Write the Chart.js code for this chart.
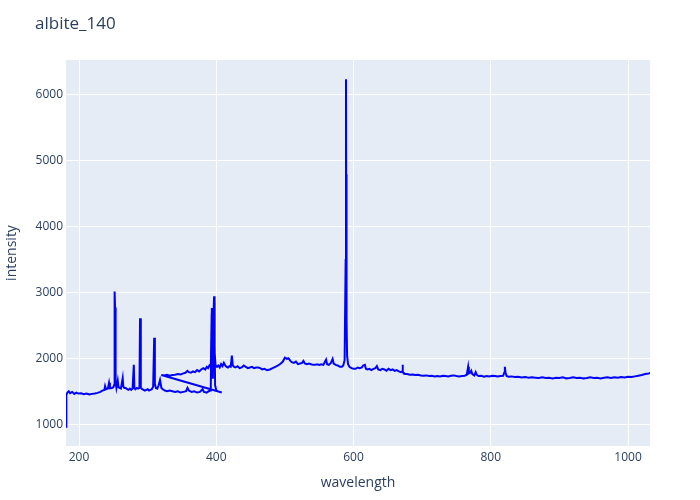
<!DOCTYPE html>
<html>
<head>
<meta charset="utf-8">
<script src="https://cdn.jsdelivr.net/npm/chart.js@4/dist/chart.umd.min.js"></script>
<style>
html,body{margin:0;padding:0;background:#fff;}
#wrap{width:700px;height:500px;position:relative;}
</style>
</head>
<body>
<div id="wrap"><canvas id="c" width="700" height="500"></canvas></div>
<script>
const chartTitle = "albite_140";
const xTitle = "wavelength";
const yTitle = "intensity";

// Segment 1 (first spectrometer range)
const wl1 = [181,181.5,183,185,187,190,193,196,199,203,207,211,215,219,223,227,231,234,237,238,239.5,242,243.7,245,248,250,251,251.6,252.1,252.5,253,253.6,254.5,256.4,257.5,259,261,263.6,264.5,266,268,270,272,274,276,278,279.8,280.6,282,284,286,288,288.9,290,292,294,296,298,300,302,304,306,308,309.5,310.5,312,314,316,318,320,322,325,328,332,336,340,344,348,352,356,358,360,364,368,372,376,380,382,386,389,391,392,393,393.5,394.2,395,396,396.8,397.5,398.3,400,402,405,408];
const int1 = [970,1450,1490,1510,1480,1500,1470,1490,1475,1480,1465,1475,1460,1470,1475,1485,1500,1520,1530,1590,1540,1550,1640,1555,1560,1570,1600,1700,3020,2780,2200,1650,1560,1670,1570,1560,1550,1710,1580,1560,1560,1540,1530,1550,1530,1550,1910,1560,1540,1560,1550,1560,2615,1560,1540,1530,1520,1530,1540,1520,1530,1540,1580,2320,1620,1560,1550,1600,1680,1560,1540,1520,1510,1520,1510,1500,1510,1490,1500,1510,1560,1520,1500,1510,1490,1500,1540,1500,1490,1510,1520,1600,2400,2770,2100,1700,2700,2950,2300,1600,1520,1510,1500,1490];

// Segment 2 (second spectrometer range)
const wl2 = [320,324,328,332,336,340,344,348,352,355,358,360,363,366,369,372,375,378,381,384,386,388,390,392,393.3,394,395,396.8,397.6,399,401,403,405,407,409,411,413,415,417,419,421,422.7,424,426,428,431,434,437,440,443,446,449,452,455,458,461,464,467,470,474,478,482,486,490,494,497,500,503,505,508,510,513,516,519,522,525,527,529,532,535,538,541,544,547,550,553,556,558,560,561.5,564,567,569.5,571,574,577,580,583,585,587,588.5,589.0,589.3,589.6,590.0,590.6,592,594,597,600,603,606,609,612,614,616.5,618,620,623,626,629,632,634,636,639,642,645,648,651,654,657,660,663,666,669,671,671.4,672,675,678,682,686,690,694,698,702,706,710,714,718,722,726,730,734,738,742,746,750,754,758,762,765,767,768,770,771.5,773,776,778,779.5,782,786,790,794,798,802,806,810,814,818,819.5,820.5,821.5,823,826,830,835,840,845,850,855,860,865,870,875,880,885,890,895,900,905,910,915,920,925,930,935,940,945,950,955,960,965,970,975,980,985,990,995,1000,1005,1010,1015,1020,1025,1030,1032];
const int2 = [1755,1750,1760,1745,1755,1760,1770,1765,1780,1790,1820,1800,1790,1810,1800,1830,1810,1840,1860,1840,1880,1860,1900,1880,2700,2000,1900,2850,2100,1900,1880,1900,1870,1920,1890,1940,1900,1880,1870,1890,1880,2050,1900,1880,1870,1890,1860,1870,1900,1880,1860,1870,1880,1860,1870,1870,1860,1840,1850,1830,1840,1860,1880,1900,1930,1960,2020,2000,2010,1970,1950,1940,1960,1920,1930,1940,1970,1930,1920,1930,1920,1910,1910,1920,1910,1920,1910,1950,1990,1920,1910,1940,2000,1930,1910,1900,1880,1880,1900,1980,3500,6240,4200,4800,2600,2050,1920,1880,1860,1850,1850,1870,1860,1870,1900,1910,1850,1840,1850,1830,1850,1860,1890,1840,1830,1850,1840,1820,1850,1830,1840,1820,1830,1810,1800,1810,1910,1800,1770,1770,1760,1765,1755,1760,1750,1745,1750,1740,1745,1735,1740,1735,1745,1740,1735,1745,1750,1740,1735,1740,1745,1760,1880,1780,1790,1820,1770,1750,1800,1760,1740,1745,1730,1740,1735,1745,1740,1735,1740,1745,1790,1880,1790,1740,1730,1735,1725,1730,1720,1725,1715,1720,1715,1710,1720,1710,1715,1705,1715,1710,1720,1705,1710,1720,1710,1715,1705,1710,1720,1710,1715,1705,1715,1720,1710,1720,1715,1725,1720,1730,1725,1735,1745,1755,1770,1780,1785];

const xTicks = [200,400,600,800,1000];
const yTicks = [1000,2000,3000,4000,5000,6000];
const xMin = 181, xMax = 1032;
const yMin = 680, yMax = 6530;

const points = [];
wl1.forEach((x,i)=>points.push({x:x,y:int1[i]}));
wl2.forEach((x,i)=>points.push({x:x,y:int2[i]}));

const txt = '#2a3f5f';
const font = "'Open Sans', sans-serif";

const bgPlugin = {
  id:'bg',
  beforeDraw(chart){
    const {ctx, chartArea:a} = chart;
    ctx.save();
    ctx.fillStyle='#fff';
    ctx.fillRect(0,0,chart.width,chart.height);
    ctx.fillStyle='#E5ECF6';
    ctx.fillRect(a.left,a.top,a.right-a.left,a.bottom-a.top);
    ctx.restore();
  },
  afterDraw(chart){
    const ctx=chart.ctx;
    ctx.save();
    ctx.font="17px "+font;
    ctx.fillStyle=txt;
    ctx.textBaseline='middle';
    ctx.textAlign='left';
    ctx.fillText(chartTitle,35,24);
    ctx.restore();
  }
};

new Chart(document.getElementById('c'),{
  type:'scatter',
  data:{datasets:[{
    data:points,
    showLine:true,
    borderColor:'#0000ff',
    backgroundColor:'#0000ff',
    borderWidth:2,
    pointRadius:0,
    tension:0
  }]},
  options:{
    responsive:false,
    animation:false,
    layout:{padding:{top:60,right:50,left:0,bottom:0}},
    plugins:{legend:{display:false},tooltip:{enabled:false}},
    scales:{
      x:{
        type:'linear',min:xMin,max:xMax,
        afterBuildTicks(s){s.ticks=xTicks.map(v=>({value:v}));},
        afterFit(s){s.height=54;},
        ticks:{color:txt,font:{family:font,size:12},padding:4,maxRotation:0,callback:v=>String(v)},
        grid:{color:'#ffffff',lineWidth:1,drawTicks:false},
        border:{display:false},
        title:{display:true,text:xTitle,color:txt,font:{family:font,size:14},padding:{top:0,bottom:8.6}}
      },
      y:{
        type:'linear',min:yMin,max:yMax,
        afterBuildTicks(s){s.ticks=yTicks.map(v=>({value:v}));},
        afterFit(s){s.width=66;},
        ticks:{color:txt,font:{family:font,size:12},padding:3,callback:v=>String(v)},
        grid:{color:'#ffffff',lineWidth:1,drawTicks:false},
        border:{display:false},
        title:{display:true,text:yTitle,color:txt,font:{family:font,size:14},padding:{top:3.6,bottom:0}}
      }
    }
  },
  plugins:[bgPlugin]
});
</script>
</body>
</html>
